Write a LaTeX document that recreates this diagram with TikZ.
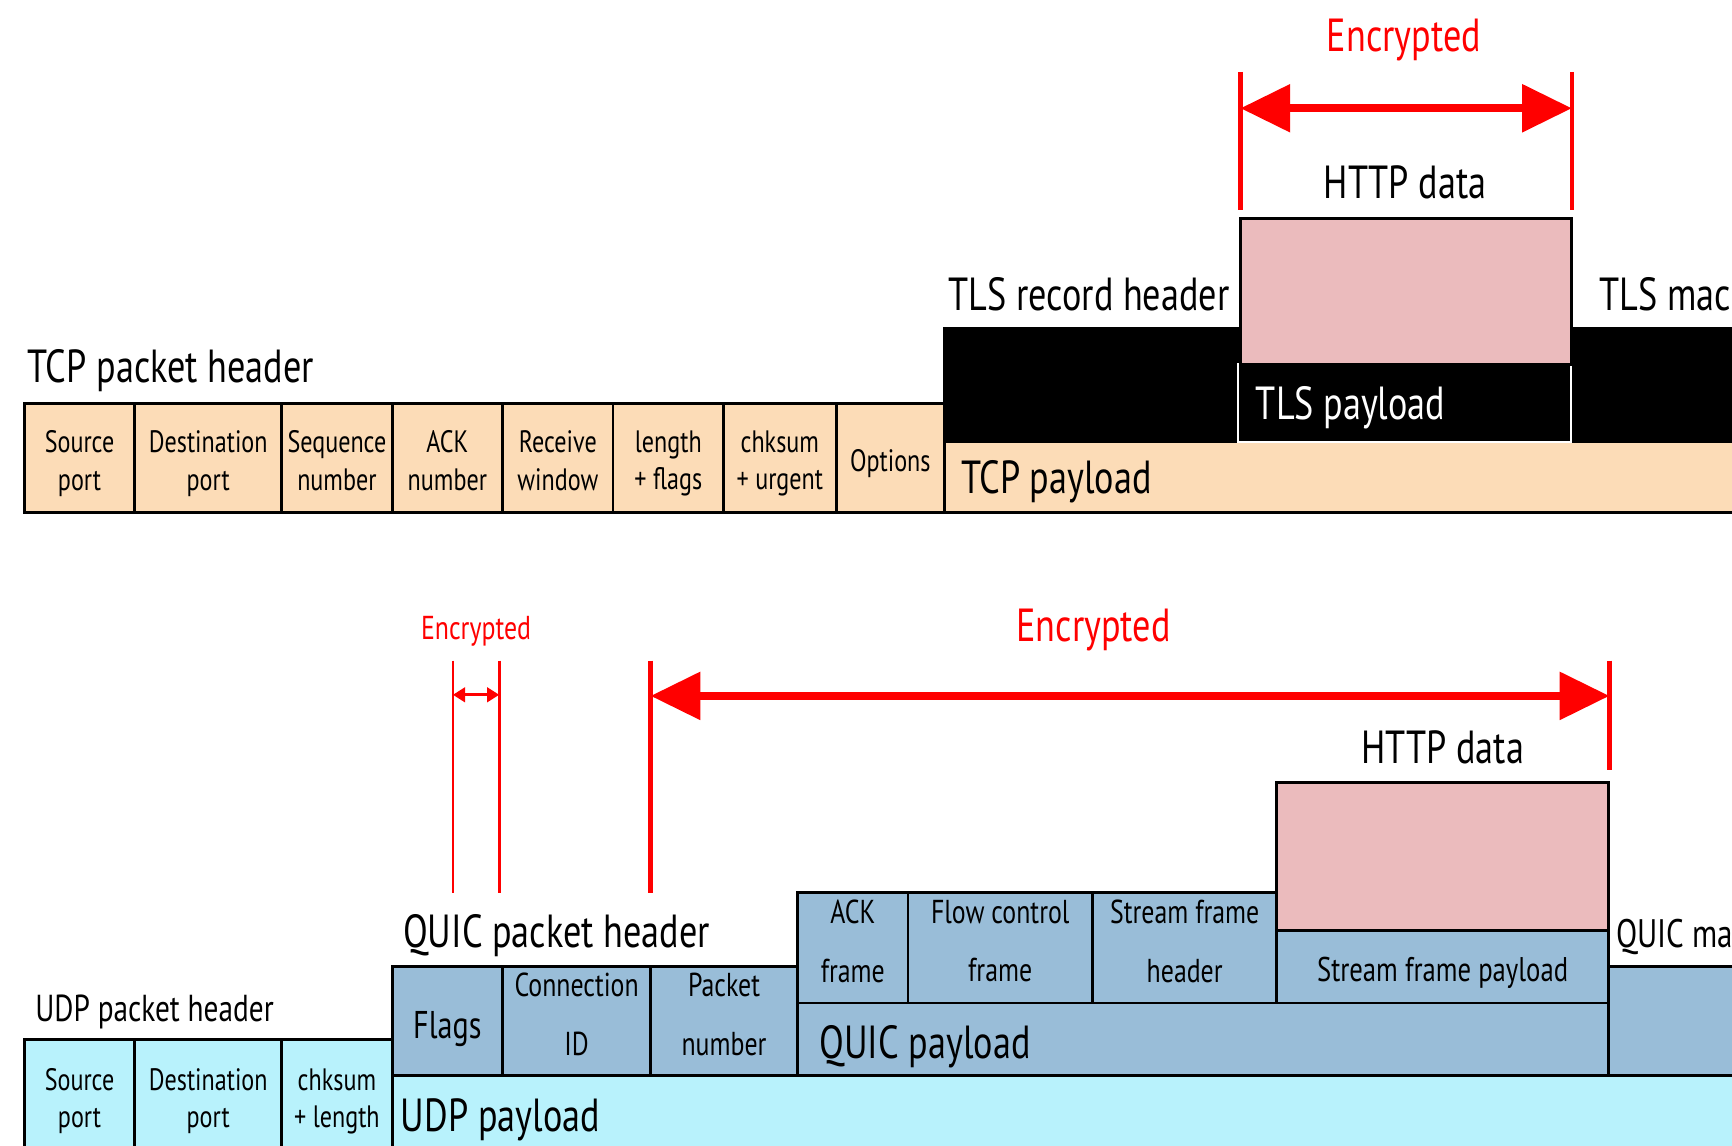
\documentclass[tikz,border=0pt]{standalone}
\usepackage{fontspec}
\setmainfont{PT Sans}[FakeStretch=0.78]
\usetikzlibrary{arrows.meta}
\definecolor{peach}{RGB}{252,220,183}
\definecolor{cyanl}{RGB}{184,242,252}
\definecolor{steel}{RGB}{153,189,216}
\definecolor{pinkd}{RGB}{235,187,189}
\definecolor{redE}{RGB}{255,0,0}
\newcommand\myfs[2]{\fontsize{#1}{#2}\selectfont}
\begin{document}
\begin{tikzpicture}[x=1pt,y=-1pt,
  cell/.style={draw=black, line width=2.6pt, rectangle, inner sep=0pt, outer sep=0pt, anchor=north west},
  tcpcell/.style={cell, fill=peach},
  udpcell/.style={cell, fill=cyanl},
  qcell/.style={cell, fill=steel},
  lbl/.style={inner sep=0pt, outer sep=0pt, align=center, font=\myfs{28}{34}},
  qlbl/.style={lbl, font=\myfs{30}{53}},
  hdr/.style={inner sep=0pt, outer sep=0pt, font=\myfs{42}{42}},
  redline/.style={draw=redE, line width=4pt},
  thinred/.style={draw=redE, line width=2.4pt},
  bigarr/.style={draw=redE, line width=7pt, {Triangle[length=45pt,width=42pt]}-{Triangle[length=45pt,width=42pt]}},
  smallarr/.style={draw=redE, line width=3pt, {Triangle[length=11pt,width=13pt]}-{Triangle[length=11pt,width=13pt]}}
]
\useasboundingbox (0,0) rectangle (1568,1037);
\clip (0,0) rectangle (1568,1037);

% ---------------- TCP / TLS ----------------
\node[tcpcell, minimum width=100pt, minimum height=99pt] (tsrc) at (22,365) {};
\node[tcpcell, minimum width=133pt, minimum height=99pt] (tdst) at (122,365) {};
\node[tcpcell, minimum width=100pt, minimum height=99pt] (tseq) at (255,365) {};
\node[tcpcell, minimum width=100pt, minimum height=99pt] (tack) at (355,365) {};
\node[tcpcell, minimum width=100pt, minimum height=99pt] (trcv) at (455,365) {};
\node[tcpcell, minimum width=100pt, minimum height=99pt] (tlen) at (555,365) {};
\node[tcpcell, minimum width=102pt, minimum height=99pt] (tchk) at (655,365) {};
\node[tcpcell, minimum width=98pt, minimum height=99pt] (topt) at (757,365) {};
\begin{scope}[every node/.append style={yshift=-5pt}]
\node[lbl] (tsrcl) at (tsrc.center) {Source\\port};
\node[lbl] (tdstl) at (tdst.center) {Destination\\port};
\node[lbl] (tseql) at (tseq.center) {Sequence\\number\vphantom{p}};
\node[lbl] (tackl) at (tack.center) {ACK\\number\vphantom{p}};
\node[lbl] (trcvl) at (trcv.center) {Receive\\window\vphantom{p}};
\node[lbl] (tlenl) at (tlen.center) {length\\+ flags};
\node[lbl] (tchkl) at (tchk.center) {chksum\\+ urgent};
\node[lbl] (toptl) at (topt.center) {Options};
\end{scope}

\node[cell, fill=black, minimum width=760pt, minimum height=103pt] (tlsrec) at (855,297) {};
\node[cell, fill=peach, minimum width=760pt, minimum height=64pt] (tcppay) at (855,400) {};
\node[hdr, anchor=base west] (tcppayl) at (870,447) {TCP payload};
\node[draw=white, line width=2pt, rectangle, inner sep=0pt, outer sep=0pt, anchor=north west,
      minimum width=301pt, minimum height=70pt] (tlspay) at (1121,330) {};
\node[hdr, anchor=base west, text=white] (tlspayl) at (1137,380) {TLS payload};
\node[cell, fill=pinkd, minimum width=300pt, minimum height=132pt] (http1) at (1123,198) {};

\node[hdr, anchor=base, text=redE] (enc1) at (1271,47) {Encrypted};
\node[hdr, anchor=base] (http1l) at (1272,180) {HTTP data};
\node[hdr, anchor=base east] (tlsrh) at (1113,281) {TLS record header};
\node[hdr, anchor=base west] (tlsmac) at (1448,281) {TLS mac};
\node[hdr, anchor=base west] (tcph) at (25,346) {TCP packet header};

\coordinate (r1t) at (1123,65);
\coordinate (r1b) at (1123,190);
\coordinate (r2t) at (1423,65);
\coordinate (r2b) at (1423,190);
\coordinate (a1l) at (1123,98);
\coordinate (a1r) at (1423,98);
\draw[bigarr] (a1l) -- (a1r);
\draw[redline] (r1t) -- (r1b);
\draw[redline] (r2t) -- (r2b);

% ---------------- UDP / QUIC ----------------
\node[udpcell, minimum width=100pt, minimum height=112pt] (usrc) at (22,941) {};
\node[udpcell, minimum width=133pt, minimum height=112pt] (udst) at (122,941) {};
\node[udpcell, minimum width=100pt, minimum height=112pt] (uchk) at (255,941) {};
\node[lbl] (usrcl) at (usrc.center) {Source\\port};
\node[lbl] (udstl) at (udst.center) {Destination\\port};
\node[lbl] (uchkl) at (uchk.center) {chksum\\+ length};
\node[cell, fill=cyanl, minimum width=1300pt, minimum height=100pt] (udppay) at (355,974) {};
\node[hdr, anchor=base west] (udppayl) at (363,1024) {UDP payload};
\node[hdr, anchor=base west, font=\myfs{34}{34}] (udph) at (32,925) {UDP packet header};

\node[qcell, minimum width=100pt, minimum height=99pt] (qflags) at (355,875) {};
\node[qcell, minimum width=134pt, minimum height=99pt] (qcid) at (455,875) {};
\node[qcell, minimum width=133pt, minimum height=99pt] (qpn) at (589,875) {};
\node[qcell, minimum width=200pt, minimum height=99pt] (qmac) at (1456,875) {};
\node[qcell, minimum width=734pt, minimum height=66pt] (qpay) at (722,908) {};
\node[hdr, anchor=base west] (qpayl) at (742,958) {QUIC payload};
\node[qcell, minimum width=100pt, minimum height=100pt] (qack) at (722,808) {};
\node[qcell, minimum width=167pt, minimum height=100pt] (qflow) at (822,808) {};
\node[qcell, minimum width=167pt, minimum height=100pt] (qsfh) at (989,808) {};
\node[qcell, minimum width=300pt, minimum height=66pt] (qsfp) at (1156,842) {};
\node[cell, fill=pinkd, minimum width=300pt, minimum height=134pt] (http2) at (1156,708) {};

\node[lbl, font=\myfs{35}{35}, yshift=-7pt] (qflagsl) at (qflags.center) {Flags};
\node[qlbl, yshift=6pt] (qcidl) at (qcid.center) {Connection\\ID};
\node[qlbl, yshift=6pt] (qpnl) at (qpn.center) {Packet\\number};
\node[qlbl, yshift=6pt] (qackl) at (qack.center) {ACK\\frame};
\node[qlbl, yshift=6pt] (qflowl) at (qflow.center) {Flow control\\frame};
\node[qlbl, yshift=6pt] (qsfhl) at (qsfh.center) {Stream frame\\header};
\node[lbl, font=\myfs{31}{31}, yshift=-6pt] (qsfpl) at (qsfp.center) {Stream frame payload};

\node[hdr, anchor=base west] (qh) at (365,858) {QUIC packet header};
\node[hdr, anchor=base west, font=\myfs{36}{36}] (qmacl) at (1463,858) {QUIC mac};
\node[hdr, anchor=base] (http2l) at (1306,691) {HTTP data};
\node[hdr, anchor=base, text=redE] (enc3) at (990,581) {Encrypted};
\node[hdr, anchor=base, text=redE, font=\myfs{30}{30}] (enc2) at (431,579) {Encrypted};

\coordinate (s1t) at (410,598);
\coordinate (s1b) at (410,808);
\coordinate (s2t) at (452,598);
\coordinate (s2b) at (452,808);
\coordinate (s1a) at (410,629);
\coordinate (s2a) at (452,629);
\draw[smallarr] (s1a) -- (s2a);
\draw[thinred] (s1t) -- (s1b);
\draw[thinred] (s2t) -- (s2b);

\coordinate (b1t) at (589,598);
\coordinate (b1b) at (589,808);
\coordinate (b2t) at (1457,598);
\coordinate (b2b) at (1457,697);
\coordinate (b1a) at (589,630);
\coordinate (b2a) at (1457,630);
\draw[bigarr] (b1a) -- (b2a);
\draw[redline] (b1t) -- (b1b);
\draw[redline] (b2t) -- (b2b);
\end{tikzpicture}
\end{document}
